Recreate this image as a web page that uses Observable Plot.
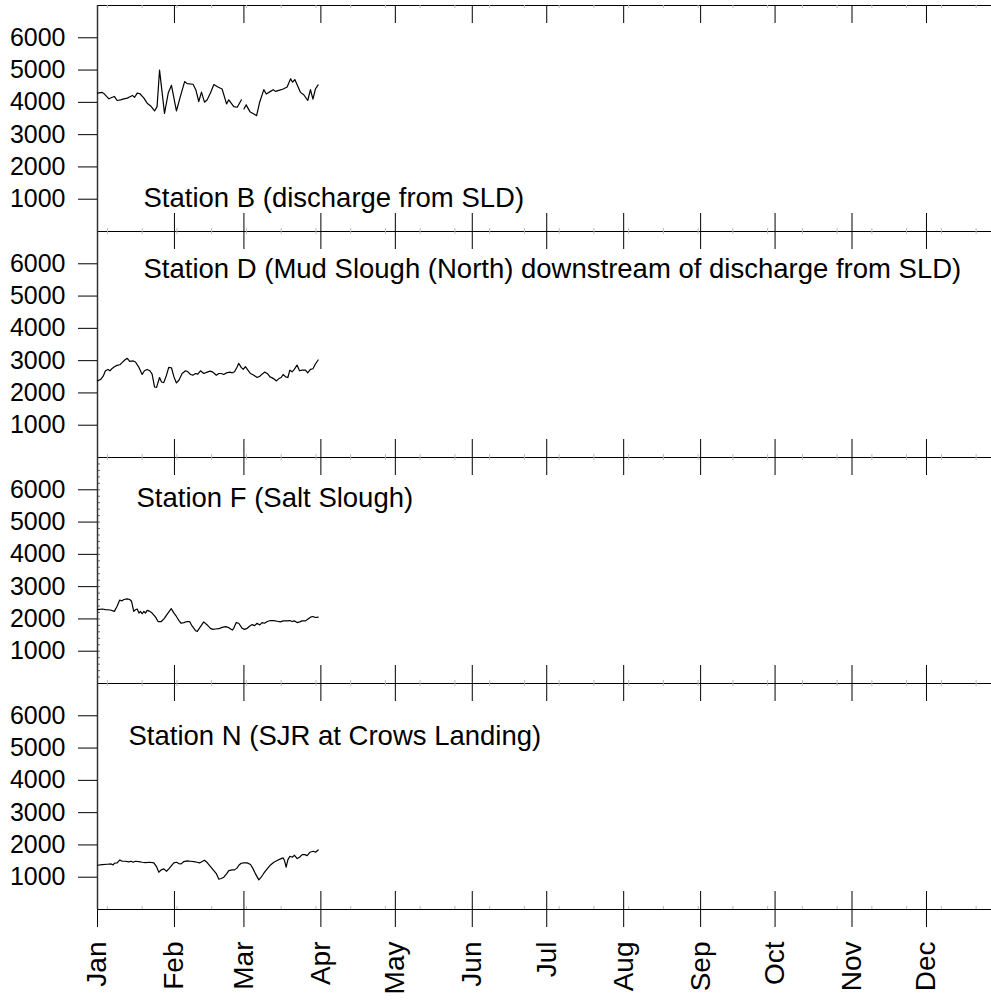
<!DOCTYPE html>
<html>
<head>
<meta charset="utf-8">
<script src="https://cdn.jsdelivr.net/npm/d3@7"></script>
<script src="https://cdn.jsdelivr.net/npm/@observablehq/plot@0.6"></script>
<style>
  html, body { margin: 0; padding: 0; background: white; overflow: hidden; }
  svg { display: block; }
</style>
</head>
<body>
<div id="chart"></div>
<script>
// ---- Data (days since Jan 1, values) ----
const stations = ["B", "D", "F", "N"];
const stationLabels = [
  "Station B (discharge from SLD)",
  "Station D (Mud Slough (North) downstream of discharge from SLD)",
  "Station F (Salt Slough)",
  "Station N (SJR at Crows Landing)"
];
const monthLabels = ["Jan","Feb","Mar","Apr","May","Jun","Jul","Aug","Sep","Oct","Nov","Dec"];
const yTicks = [1000, 2000, 3000, 4000, 5000, 6000];

const bDays = [0,1.9,2.8,4.6,5.5,6.8,7.9,9.3,10.6,12,13.3,14.1,14.9,16,17.1,18.7,20,21.4,23,24,25,27,28.5,29.8,31.8,33.4,35.1,36.1,38.5,39.6,40.8,41.9,43.1,44.2,45.5,46.9,48.5,50.2,52,52.9,54.9,56.3,58,58.5,59,59.9,61.4,63,64.1,65.3,67,68,69.7,70.8,71.7,73.1,74.8,76.4,77.8,78.6,79.5,80.4,81.8,83.1,84.7,85.8,86.8,87.8,88.9];
const bValues = [4288,4309,4257,4110,4141,4183,4058,4079,4110,4131,4183,4215,4152,4288,4267,4131,3974,3890,3733,3869,5000,3660,4288,4529,3733,4183,4644,4581,4560,4393,4026,4319,4005,4079,4288,4550,4477,4414,3953,4079,3869,3848,4079,null,3796,3922,3712,3639,3587,3995,4393,4257,4340,4393,4340,4372,4414,4477,4728,4623,4707,4550,4309,4236,4058,4393,4100,4414,4539];

const dDays = [0,1.2,2.3,3.2,4.2,5,5.9,6.8,7.9,9,9.9,11,12,13,14.4,15.3,16.7,18,18.9,20,21.1,22,23,23.8,25,25.8,26.7,27.8,28.7,29.8,30.8,31.8,32.8,34.1,35.5,36.4,37.5,38.4,39.5,40.4,41.5,42.8,44.2,45.3,46.2,47.1,47.9,48.9,49.8,50.9,52,53.3,54.3,55.2,56.3,56.9,57.9,58.7,59.6,60.6,61.6,63,64.3,65.4,66.3,67.3,68.4,69.5,70.4,71.3,72.1,73.1,74,74.8,75.8,76.7,77.5,78.4,79.3,80.4,81.4,82.4,83.8,84.7,85.8,86.8,87.8,88.9];
const dValues = [2372,2414,2518,2686,2728,2686,2759,2812,2853,2874,2937,3021,3073,2979,2990,2958,2791,2571,2686,2728,2686,2581,2183,2173,2477,2340,2319,2550,2791,2780,2497,2309,2393,2602,2686,2654,2571,2550,2602,2581,2686,2602,2644,2675,2654,2602,2550,2602,2602,2571,2623,2644,2623,2654,2812,2916,2791,2728,2812,2707,2602,2550,2477,2518,2581,2644,2602,2497,2466,2424,2372,2445,2477,2571,2497,2477,2707,2654,2728,2864,2686,2707,2707,2623,2728,2749,2895,3021];

const fDays = [0,1.9,3.2,5.2,6.8,7.9,8.9,9.9,10.6,12,13,13.7,14.6,15.3,16,16.7,17.3,18,18.7,19.3,20,21.1,22,23.4,24.4,25.7,26.7,28.1,29.7,30.8,31.8,32.8,33.7,34.8,36.1,37.1,38.1,39.5,40.2,41.5,42.8,44.2,45.5,46.5,47.5,48.9,50.2,51.6,52.9,54.3,54.9,55.9,56.9,58.3,59.2,60.3,61.4,62.3,63.3,64.3,65.4,66.3,67.3,68.4,69.7,71,72.4,73.7,74.8,76.4,77.5,78.4,79.3,80.4,81.5,82.4,83.8,84.7,85.8,86.8,87.8,88.9];
const fValues = [2286,2307,2286,2276,2234,2391,2580,2559,2601,2622,2601,2549,2234,2286,2307,2181,2234,2160,2234,2181,2265,2234,2181,2055,1919,1919,1992,2150,2318,2181,2076,1950,1866,1887,1919,1919,1782,1635,1614,1761,1908,1814,1709,1677,1688,1698,1740,1761,1730,1656,1709,1887,1866,1709,1677,1709,1782,1824,1793,1866,1814,1887,1866,1919,1950,1950,1929,1908,1940,1940,1950,1919,1940,1887,1908,1940,1940,1992,2055,2076,2045,2055];

const nDays = [0,1.88,3.89,5.51,6.31,6.85,7.92,9.0,9.94,11.28,12.62,13.56,14.37,15.31,16.65,18.0,19.34,21.09,22.7,23.77,24.71,25.65,26.73,27.8,28.74,29.81,30.75,31.83,32.77,33.71,34.78,36.13,37.47,38.81,40.16,41.1,42.17,43.11,44.19,45.53,46.87,47.95,48.89,49.83,50.9,51.98,52.92,54.26,55.2,56.28,56.95,57.89,58.96,60.3,61.65,62.72,63.66,65.0,65.94,67.02,68.36,69.7,71.05,72.39,73.74,74.81,75.35,76.02,76.69,77.5,78.44,79.38,80.45,81.39,82.47,83.54,84.48,85.55,86.9,87.84,88.91];
const nValues = [1371,1392,1402,1412,1381,1433,1443,1536,1495,1495,1474,1495,1464,1495,1485,1464,1454,1464,1443,1330,1155,1227,1258,1185,1258,1361,1443,1464,1423,1412,1485,1505,1495,1485,1464,1443,1485,1526,1454,1330,1206,1103,938,959,1000,1103,1206,1227,1227,1289,1371,1433,1443,1443,1392,1258,1103,917,1000,1124,1258,1381,1464,1515,1567,1598,1515,1309,1536,1649,1619,1680,1577,1619,1701,1701,1670,1773,1804,1773,1845];

// ---- Build tables ----
const base = Date.UTC(2001, 0, 1);
const toDate = d => new Date(base + d * 864e5);
const series = {B: [bDays, bValues], D: [dDays, dValues], F: [fDays, fValues], N: [nDays, nValues]};
const rows = stations.flatMap(s => series[s][0].map((d, i) => ({station: s, date: toDate(d), value: series[s][1][i]})));

const monthDates = monthLabels.map((m, i) => new Date(Date.UTC(2001, i, 1)));
const minorDates = d3.range(4, 361, 14).map(toDate);
const xStart = toDate(0), xEnd = toDate(360.2);
const minorY = d3.range(200, 7000, 200).map(v => ({station: "F", v}));

const labelMark = (i, dx, dy) => Plot.text([{station: stations[i], label: stationLabels[i]}], {
  fy: "station", text: "label", frameAnchor: "top-left", textAnchor: "start", lineAnchor: "bottom",
  dx, dy, fontSize: 27.5, fill: "black"
});

const chart = Plot.plot({
  width: 991, height: 1001,
  marginLeft: 97, marginRight: 0, marginTop: 5, marginBottom: 92,
  style: {fontFamily: "'Liberation Sans', Arial, sans-serif", background: "white", color: "black", overflow: "visible"},
  x: {type: "utc", domain: [xStart, xEnd], axis: null},
  y: {domain: [0, 7000], axis: null},
  fy: {domain: stations, axis: null, padding: 0},
  marks: [
    Plot.ruleY([0, 7000], {stroke: "black", strokeWidth: 1}),
    Plot.tickX(minorDates, {insetBottom: 223, stroke: "#bbb"}),
    Plot.tickX(minorDates, {insetTop: 223, stroke: "#bbb"}),
    Plot.tickX(monthDates, {insetBottom: 208, stroke: "black"}),
    Plot.tickX(monthDates, {insetTop: 208, stroke: "black"}),
    Plot.tickY(minorY, {y: "v", fy: "station", insetRight: 891, stroke: "#666"}),
    Plot.ruleX([xStart], {stroke: "#333", strokeWidth: 1.5}),
    Plot.axisY({ticks: yTicks, tickSize: 19, tickPadding: 13, fontSize: 25, tickFormat: d => String(d)}),
    Plot.axisX({anchor: "bottom", ticks: monthDates, tickFormat: d => monthLabels[d.getUTCMonth()],
      tickSize: 18, tickPadding: 14, tickRotate: -90, fontSize: 28}),
    Plot.line(rows, {x: "date", y: "value", fy: "station", stroke: "black", strokeWidth: 1.2}),
    labelMark(0, 46, 201),
    labelMark(1, 46, 46.5),
    labelMark(2, 39, 49),
    labelMark(3, 31, 61.5)
  ]
});
document.getElementById("chart").appendChild(chart);
</script>
</body>
</html>
